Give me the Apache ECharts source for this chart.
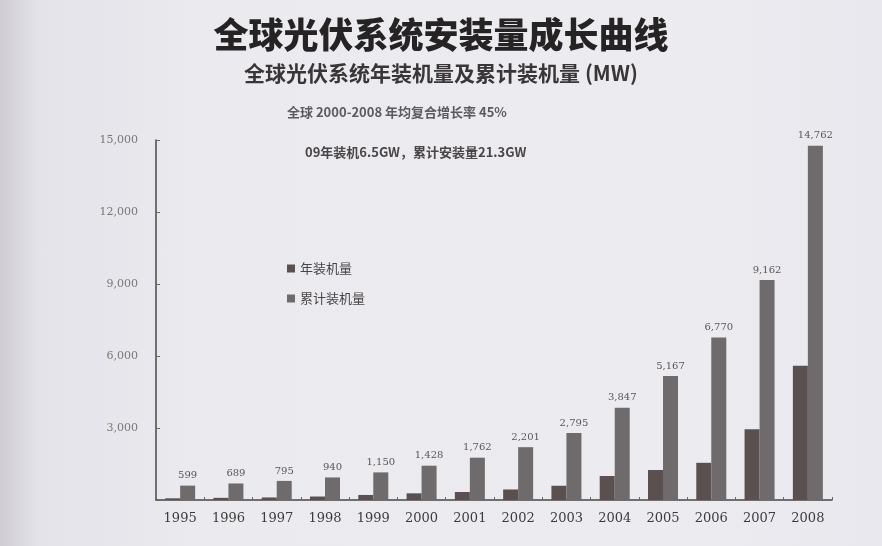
<!DOCTYPE html>
<html><head><meta charset="utf-8">
<script src="https://cdn.jsdelivr.net/npm/echarts@6/dist/echarts.min.js"></script>
<style>
html,body{margin:0;padding:0;}
body{background:linear-gradient(90deg,#cfcdd3 0px,#e4e3e9 40px,#ebeaef 200px,#ecebf0 700px,#e9e8ee 882px);}
#c{width:882px;height:546px;}
</style></head>
<body><div id="c"></div>
<script>
const years = ['1995','1996','1997','1998','1999','2000','2001','2002','2003','2004','2005','2006','2007','2008'];
const annual = [70, 90, 106, 145, 210, 278, 334, 439, 594, 1000, 1250, 1550, 2950, 5590];
const cumulative = [599, 689, 795, 940, 1150, 1428, 1762, 2201, 2795, 3847, 5167, 6770, 9162, 14762];
const yTicks = [0, 3000, 6000, 9000, 12000, 15000];

const chart = echarts.init(document.getElementById('c'));
const serif = '"DejaVu Serif", "Liberation Serif", serif';
const cjk = '"Noto Sans CJK SC", sans-serif';
chart.setOption({
  backgroundColor: 'transparent',
  animation: false,
  title: [
    {text: '全球光伏系统安装量成长曲线', left: 'center', top: 12,
     textStyle: {fontFamily: cjk, fontSize: 35, fontWeight: 900, color: '#262324'}},
    {text: '全球光伏系统年装机量及累计装机量 (MW)', left: 'center', top: 58,
     textStyle: {fontFamily: cjk, fontSize: 21, fontWeight: 'bold', color: '#3a3637'}}
  ],
  graphic: [
    {type: 'text', left: 287, top: 106, style: {text: '全球 2000-2008 年均复合增长率 45%', font: 'bold 13px "Noto Sans CJK SC", sans-serif', fill: '#5e5a5c'}},
    {type: 'text', left: 305, top: 146, style: {text: '09年装机6.5GW，累计安装量21.3GW', font: 'bold 13px "Noto Sans CJK SC", sans-serif', fill: '#4a4647'}}
  ],
  legend: {
    orient: 'vertical', left: 282, top: 257, itemGap: 17,
    itemWidth: 8, itemHeight: 8, icon: 'rect',
    textStyle: {fontFamily: cjk, fontSize: 13, color: '#4a4647'},
    data: ['年装机量', '累计装机量']
  },
  grid: {left: 156, right: 50, top: 140, bottom: 46},
  xAxis: {
    type: 'category', data: years,
    axisLine: {lineStyle: {color: '#4a4647', width: 1.5}},
    axisTick: {show: true, alignWithLabel: false, length: -3, lineStyle: {color: '#6a6667'}},
    axisLabel: {fontFamily: serif, fontSize: 13, color: '#3f3b3c', margin: 12}
  },
  yAxis: {
    type: 'value', min: 0, max: 15000, interval: 3000,
    axisLine: {show: true, lineStyle: {color: '#4a4647', width: 1.5}},
    axisTick: {show: true, inside: true, length: 4, lineStyle: {color: '#6a6667'}},
    splitLine: {show: false},
    axisLabel: {fontFamily: serif, fontSize: 11, color: '#7a7678', margin: 18,
      formatter: v => v === 0 ? '' : v.toLocaleString('en-US')}
  },
  series: [
    {name: '年装机量', type: 'bar', data: annual, barWidth: 15, barGap: '0%',
     itemStyle: {color: '#5a5050'}},
    {name: '累计装机量', type: 'bar', data: cumulative, barWidth: 15,
     itemStyle: {color: '#6f6a6c'},
     label: {show: true, position: 'top', distance: 5, fontFamily: serif, fontSize: 10, color: '#5a5658',
       formatter: p => p.value.toLocaleString('en-US')}}
  ]
});
</script></body></html>
